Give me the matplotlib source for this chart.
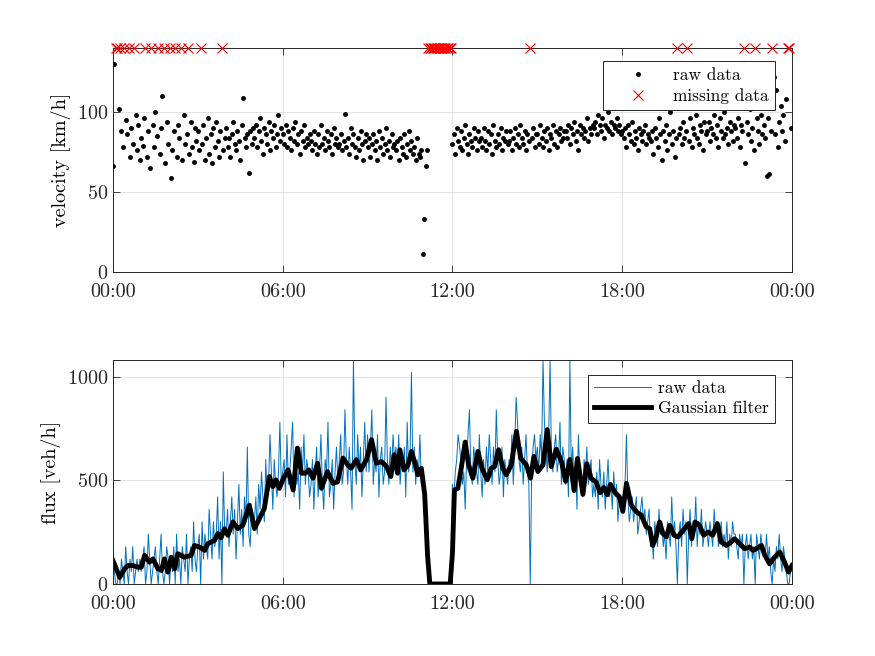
import numpy as np
import matplotlib
matplotlib.use('Agg')
import matplotlib.pyplot as plt

plt.rcParams['font.family'] = 'serif'
plt.rcParams['font.serif'] = ['cmr10']
plt.rcParams['mathtext.fontset'] = 'cm'
plt.rcParams['axes.formatter.use_mathtext'] = True

# muestreo cada 3 minutos, 20 valores por hora
dt = 3 / 60.0

# flujo crudo [veh/h], una fila por hora
flux_raw = [
    120, 60, 0, 0, 60, 0, 120, 60, 0, 180, 60, 0, 120, 60, 180, 0, 60, 120, 60, 120,
    60, 120, 180, 0, 60, 240, 120, 0, 60, 120, 180, 60, 0, 120, 240, 60, 0, 60, 180, 120,
    0, 120, 60, 180, 0, 240, 60, 120, 0, 180, 120, 60, 240, 0, 120, 180, 60, 300, 120, 60,
    180, 240, 0, 300, 120, 240, 180, 120, 360, 240, 120, 300, 180, 240, 420, 120, 300, 0, 540, 240,
    240, 360, 180, 300, 420, 240, 360, 120, 300, 480, 240, 360, 180, 420, 300, 660, 240, 180, 360, 300,
    300, 420, 240, 480, 360, 540, 420, 300, 600, 420, 480, 720, 540, 360, 600, 480, 420, 540, 780, 480,
    540, 600, 420, 720, 480, 540, 660, 780, 420, 600, 480, 540, 360, 660, 540, 720, 480, 600, 540, 420,
    480, 600, 360, 540, 660, 420, 540, 720, 480, 360, 600, 540, 780, 420, 480, 600, 360, 540, 660, 480,
    600, 720, 480, 540, 840, 600, 480, 660, 540, 360, 1080, 600, 480, 720, 540, 660, 420, 600, 780, 540,
    720, 540, 660, 840, 480, 600, 540, 720, 420, 600, 660, 480, 540, 900, 600, 480, 660, 540, 720, 600,
    660, 540, 720, 480, 600, 540, 660, 420, 780, 540, 600, 1020, 540, 660, 480, 600, 540, 720, 480, 540,
    420, 360, 240, 0, 0, 0, 0, 0, 0, 0, 0, 0, 0, 0, 0, 0, 0, 0, 0, 0,
    480, 420, 540, 600, 720, 660, 600, 480, 540, 360, 600, 720, 840, 540, 480, 660, 600, 540, 480, 720,
    540, 420, 600, 480, 660, 540, 720, 600, 480, 660, 540, 840, 600, 480, 540, 660, 420, 600, 540, 480,
    600, 540, 720, 480, 660, 900, 780, 600, 540, 660, 480, 600, 720, 540, 480, 0, 540, 660, 720, 600,
    660, 540, 720, 600, 1080, 780, 660, 540, 720, 1080, 600, 540, 660, 720, 540, 600, 780, 480, 660, 600,
    480, 600, 420, 1080, 540, 660, 480, 600, 360, 720, 540, 480, 420, 600, 540, 660, 480, 540, 600, 420,
    480, 420, 540, 360, 600, 480, 420, 540, 360, 480, 600, 420, 480, 360, 540, 420, 480, 300, 420, 360,
    420, 360, 480, 720, 420, 300, 360, 420, 300, 360, 420, 240, 300, 360, 420, 300, 360, 240, 300, 360,
    180, 240, 120, 300, 240, 180, 360, 240, 300, 180, 240, 120, 300, 240, 180, 420, 240, 300, 180, 0,
    240, 300, 180, 360, 240, 300, 0, 240, 360, 180, 300, 240, 420, 180, 300, 240, 360, 180, 240, 300,
    240, 180, 300, 240, 180, 360, 240, 300, 180, 240, 300, 180, 240, 180, 300, 120, 240, 180, 300, 240,
    240, 180, 120, 240, 180, 240, 0, 180, 240, 120, 180, 240, 120, 180, 0, 240, 180, 120, 240, 180,
    180, 120, 240, 120, 180, 60, 0, 120, 60, 180, 120, 240, 120, 60, 180, 120, 60, 0, 0, 60,
]

# velocidad [km/h], None = dato faltante
N = None
velocity = [
    66, 130, N, N, 102, N, 88, 78, N, 95, 86, N, 72, 90, 80, N, 98, 76, 92, 70,
    84, 79, 96, N, 72, 88, 65, N, 92, 78, 100, 85, N, 74, 90, 110, N, 68, 94, 80,
    N, 59, 76, 88, N, 72, 92, 84, N, 70, 98, 80, 86, N, 74, 94, 78, 69, 90, 82,
    88, 76, N, 80, 92, 70, 84, 96, 74, 86, 68, 90, 78, 94, 82, 72, 88, N, 76, 84,
    90, 78, 84, 72, 86, 94, 80, 76, 88, 82, 70, 92, 109, 84, 78, 86, 62, 88, 80, 90,
    84, 92, 78, 88, 96, 82, 74, 90, 86, 80, 94, 76, 88, 84, 92, 78, 86, 98, 82, 90,
    86, 80, 92, 78, 88, 84, 76, 90, 82, 94, 80, 86, 74, 88, 82, 92, 78, 84, 80, 86,
    82, 76, 88, 80, 74, 86, 78, 92, 80, 84, 76, 88, 82, 78, 86, 74, 90, 80, 84, 78,
    80, 86, 76, 82, 99, 78, 84, 74, 90, 80, 86, 78, 72, 84, 76, 88, 80, 70, 82, 86,
    78, 84, 72, 80, 86, 76, 82, 70, 88, 78, 84, 74, 80, 90, 76, 82, 72, 86, 78, 80,
    76, 82, 70, 84, 78, 74, 86, 72, 80, 88, 76, 82, 74, 78, 70, 84, 74, 72, 76, 11,
    33, 66, 76, N, N, N, N, N, N, N, N, N, N, N, N, N, N, N, N, N,
    80, 86, 74, 90, 82, 78, 88, 76, 84, 92, 80, 74, 86, 82, 78, 90, 84, 76, 88, 82,
    84, 78, 90, 82, 76, 88, 80, 86, 74, 92, 82, 78, 86, 80, 90, 76, 84, 82, 88, 80,
    82, 88, 76, 84, 90, 80, 86, 78, 92, 84, 80, 88, 76, 86, 82, N, 84, 90, 78, 86,
    86, 80, 92, 84, 78, 88, 82, 90, 76, 86, 84, 92, 80, 88, 78, 86, 90, 82, 84, 88,
    88, 84, 92, 80, 90, 86, 94, 82, 88, 76, 92, 86, 90, 84, 88, 96, 82, 90, 86, 92,
    90, 94, 86, 98, 92, 88, 96, 84, 92, 90, 100, 88, 94, 86, 92, 90, 96, 88, 92, 86,
    88, 84, 90, 78, 92, 86, 82, 94, 80, 88, 84, 76, 90, 86, 82, 88, 92, 80, 86, 84,
    82, 88, 74, 90, 84, 78, 96, 86, 70, 88, 82, 92, 76, 86, 100, 80, 88, 72, 84, N,
    86, 90, 80, 94, 84, 88, N, 82, 96, 78, 90, 86, 98, 84, 80, 92, 88, 76, 94, 86,
    88, 94, 82, 90, 86, 98, 84, 92, 78, 96, 88, 84, 100, 86, 90, 80, 94, 88, 82, 92,
    90, 84, 96, 78, 92, 88, N, 68, 94, 86, 102, 82, 90, 76, N, 96, 88, 80, 98, 86,
    92, 84, 60, 96, 61, 88, N, 122, 86, 114, 78, 94, 104, 88, 98, 82, 108, N, N, 90,
]

# curva del filtro gaussiano (hora, veh/h)
smooth_t = [0.00, 0.24, 0.41, 0.53, 0.71, 0.88, 1.00, 1.12, 1.29, 1.41, 1.59, 1.71, 1.82, 1.94,
            2.06, 2.18, 2.29, 2.53, 2.76, 2.88, 3.06, 3.24, 3.35, 3.59, 3.71, 3.82, 3.94, 4.06,
            4.24, 4.41, 4.59, 4.82, 5.00, 5.18, 5.35, 5.53, 5.65, 5.76, 5.88, 6.00, 6.19, 6.37,
            6.52, 6.66, 6.80, 6.92, 7.07, 7.23, 7.37, 7.58, 7.78, 7.94, 8.13, 8.30, 8.42, 8.60,
            8.76, 8.96, 9.14, 9.31, 9.49, 9.67, 9.82, 9.94, 10.06, 10.14, 10.29, 10.43, 10.55,
            10.69, 10.78, 10.90, 11.02, 11.12, 11.20, 11.92, 12.00, 12.07, 12.19, 12.31, 12.45,
            12.57, 12.72, 12.90, 13.04, 13.23, 13.37, 13.49, 13.63, 13.78, 13.90, 14.08, 14.26,
            14.41, 14.61, 14.76, 14.88, 15.02, 15.20, 15.35, 15.49, 15.67, 15.85, 16.00, 16.15,
            16.30, 16.42, 16.61, 16.75, 16.90, 17.08, 17.22, 17.35, 17.47, 17.58, 17.75, 17.90,
            18.02, 18.15, 18.32, 18.50, 18.67, 18.85, 18.97, 19.08, 19.20, 19.32, 19.44, 19.56,
            19.68, 19.83, 19.97, 20.15, 20.35, 20.46, 20.58, 20.73, 20.88, 21.03, 21.20, 21.36,
            21.50, 21.68, 21.85, 21.97, 22.15, 22.33, 22.50, 22.62, 22.74, 22.92, 23.04, 23.21,
            23.38, 23.57, 23.74, 23.88, 24.00]
smooth_v = [113, 32, 73, 89, 89, 81, 81, 138, 105, 121, 73, 65, 121, 57,
            129, 73, 146, 129, 138, 186, 178, 162, 194, 210, 243, 222, 267, 235,
            299, 267, 283, 380, 267, 316, 364, 518, 469, 502, 461, 502, 550, 453,
            655, 534, 534, 550, 510, 582, 461, 542, 485, 493, 607, 574, 558, 599,
            550, 599, 696, 582, 590, 566, 518, 623, 534, 647, 550, 574, 639,
            574, 526, 558, 429, 137, 0, 0, 150, 453, 461, 558, 684,
            574, 510, 639, 558, 502, 558, 566, 647, 558, 526, 574, 736,
            607, 574, 510, 615, 542, 574, 744, 566, 650, 591, 495, 600,
            450, 605, 432, 580, 510, 490, 440, 465, 430, 480, 440, 420,
            350, 485, 380, 348, 332, 275, 267, 186, 227, 299, 243, 227,
            283, 235, 227, 259, 291, 218, 299, 283, 235, 251, 235, 291,
            202, 186, 202, 218, 194, 170, 178, 162, 170, 186, 138, 97,
            129, 154, 105, 57, 89]

xtick_pos = [0, 6, 12, 18, 24]
xtick_lab = ['00:00', '06:00', '12:00', '18:00', '00:00']

t = np.arange(len(flux_raw)) * dt
flux_raw = np.array(flux_raw, dtype=float)
v = np.array([np.nan if a is None else a for a in velocity], dtype=float)
missing = np.isnan(v)

blue = '#0072BD'
axcol = '#262626'
fs = 14.5
lfs = 12.5

fig = plt.figure(figsize=(8.75, 6.56), dpi=100)
ax1 = fig.add_axes([0.1291, 0.5854, 0.776, 0.3415])
ax2 = fig.add_axes([0.1291, 0.1098, 0.776, 0.3415])

ax1.plot(t[~missing], v[~missing], '.', color='k', ms=5, label='raw data', zorder=3)
ax1.plot(t[missing], np.full(missing.sum(), 140.0), 'x', color='r', ms=7, mew=0.8,
         label='missing data', clip_on=False, zorder=4)
ax1.set_ylim(0, 140)
ax1.set_yticks([0, 50, 100])
ax1.set_ylabel('velocity [km/h]', fontsize=fs)
ax1.legend(loc='upper right', bbox_to_anchor=(0.975, 0.94), fontsize=lfs,
           fancybox=False, edgecolor=axcol, framealpha=1, borderpad=0.35,
           handlelength=3.3, handletextpad=0.4, labelspacing=0.3, borderaxespad=0)

ax2.plot(t, flux_raw, '-', color=blue, lw=0.7, label='raw data')
ax2.plot(smooth_t, smooth_v, '-', color='k', lw=3.5, label='Gaussian filter',
         solid_joinstyle='round')
ax2.set_ylim(0, 1080)
ax2.set_yticks([0, 500, 1000])
ax2.set_ylabel('flux [veh/h]', fontsize=fs)
ax2.legend(loc='upper right', bbox_to_anchor=(0.975, 0.935), fontsize=lfs,
           fancybox=False, edgecolor=axcol, framealpha=1, borderpad=0.35,
           handlelength=3.3, labelspacing=0.3, borderaxespad=0, handletextpad=0.4)

for ax in (ax1, ax2):
    ax.set_xlim(0, 24)
    ax.set_xticks(xtick_pos)
    ax.set_xticklabels(xtick_lab)
    ax.grid(True, color='#dedede', lw=0.6)
    ax.set_axisbelow(True)
    ax.tick_params(direction='in', top=True, right=True, length=5, width=0.6,
                   colors=axcol, labelsize=fs, labelcolor=axcol)
    ax.tick_params(axis='x', pad=8)
    for s in ax.spines.values():
        s.set_color(axcol)
        s.set_linewidth(0.7)
    ax.get_legend().get_frame().set_linewidth(0.7)

fig.savefig('out.png', dpi=100)
